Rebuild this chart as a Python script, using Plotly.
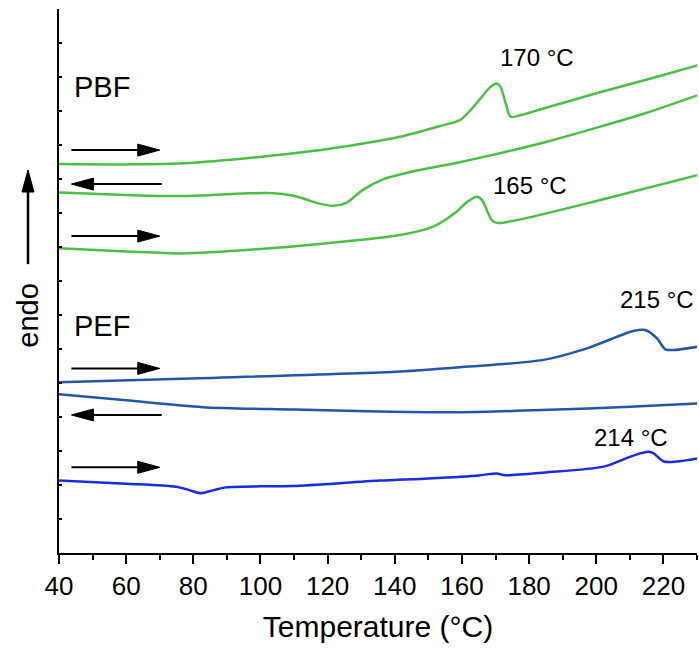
import plotly.graph_objects as go

# ---- data (temperature in °C, heat flow in arbitrary stacked units) ----
pbf_h2_T = [40, 60, 77, 100, 120, 141.5, 153.5, 159.5, 163.5, 168.5, 170.3, 171.5, 173, 174.5, 177.5, 183.5, 200, 220, 230.4]
pbf_h2_y = [11.44, 11.43, 11.46, 11.65, 11.88, 12.24, 12.56, 12.74, 13.13, 13.71, 13.81, 13.71, 13.23, 12.83, 12.88, 13.05, 13.52, 14.06, 14.35]

pbf_c_T = [40, 60, 76.8, 96.7, 104, 109, 113, 117, 121.6, 125.6, 130.5, 136.5, 144, 160, 171.3, 185, 201.2, 215, 230.4]
pbf_c_y = [10.60, 10.53, 10.50, 10.58, 10.58, 10.52, 10.42, 10.29, 10.21, 10.30, 10.68, 10.99, 11.19, 11.51, 11.76, 12.09, 12.54, 12.95, 13.47]

pbf_h1_T = [40, 60, 76.8, 100, 120, 141.5, 151.4, 158.4, 161.6, 164.4, 166, 167.4, 168.9, 170.4, 176.3, 201.2, 230.4]
pbf_h1_y = [8.96, 8.87, 8.81, 8.94, 9.11, 9.35, 9.60, 10.04, 10.33, 10.48, 10.38, 10.09, 9.79, 9.71, 9.79, 10.38, 11.12]

pef_h2_T = [40, 81.8, 141.5, 160, 184.3, 197.2, 206.2, 211, 214.6, 218.1, 220.6, 223, 230.5]
pef_h2_y = [5.02, 5.14, 5.34, 5.47, 5.68, 6.02, 6.36, 6.53, 6.56, 6.31, 5.99, 5.97, 6.07]

pef_c_T = [40, 60, 82.8, 110, 135.5, 160, 186, 210, 230.4]
pef_c_y = [4.67, 4.49, 4.29, 4.22, 4.16, 4.14, 4.21, 4.30, 4.40]

pef_h1_T = [40, 60, 74.8, 78.8, 82.3, 86, 89.8, 100, 109.6, 135.5, 150, 165, 168, 170.3, 173, 185, 202.2, 209, 213, 215.6, 217.1, 220.1, 224, 230.5]
pef_h1_y = [2.13, 2.04, 1.95, 1.85, 1.76, 1.85, 1.93, 1.96, 1.97, 2.13, 2.19, 2.28, 2.32, 2.34, 2.29, 2.37, 2.54, 2.79, 2.93, 2.98, 2.93, 2.69, 2.69, 2.79]

x_ticks = [40, 60, 80, 100, 120, 140, 160, 180, 200, 220]

peak_labels = ["170 °C", "165 °C", "215 °C", "214 °C"]
peak_label_x = [182.3, 180.2, 218.0, 210.4]
peak_label_y = [14.57, 10.8, 7.46, 3.40]

sample_labels = ["PBF", "PEF"]
sample_label_y = [13.7, 6.69]

# scan-direction arrows: (y level, direction +1 heating / -1 cooling)
arrow_y = [11.85, 10.85, 9.32, 5.43, 4.06, 2.52]
arrow_dir = [1, -1, 1, 1, -1, 1]

GREEN = "#4CBF46"
BLUE_DARK = "#2456A8"
BLUE = "#1A2BE0"
FONT = "Liberation Sans, Arial, sans-serif"

fig = go.Figure()
curves = [
    (pbf_h2_T, pbf_h2_y, GREEN),
    (pbf_c_T, pbf_c_y, GREEN),
    (pbf_h1_T, pbf_h1_y, GREEN),
    (pef_h2_T, pef_h2_y, BLUE_DARK),
    (pef_c_T, pef_c_y, BLUE_DARK),
    (pef_h1_T, pef_h1_y, BLUE),
]
for xs, ys, col in curves:
    fig.add_trace(go.Scatter(x=xs, y=ys, mode="lines",
                             line=dict(color=col, width=2.5, shape="spline", smoothing=0.8),
                             showlegend=False, hoverinfo="skip"))

annotations = []
for t, x, y in zip(peak_labels, peak_label_x, peak_label_y):
    annotations.append(dict(x=x, y=y, xref="x", yref="y", text=t, showarrow=False,
                            font=dict(size=24, color="black", family=FONT),
                            xanchor="center", yanchor="middle"))
for t, y in zip(sample_labels, sample_label_y):
    annotations.append(dict(x=43.8, y=y, xref="x", yref="y", text=t, showarrow=False,
                            font=dict(size=29, color="black", family=FONT),
                            xanchor="left", yanchor="middle"))
annotations.append(dict(x=-0.0486, y=0.438, xref="paper", yref="paper", text="endo",
                        showarrow=False, textangle=-90,
                        font=dict(size=29, color="black", family=FONT),
                        xanchor="center", yanchor="middle"))

shapes = []
x_left, x_right = 43.7, 70.0
for y, d in zip(arrow_y, arrow_dir):
    if d > 0:
        tip, tail = x_right, x_left
    else:
        tip, tail = x_left, x_right + 0.6
    shapes.append(dict(type="line", xref="x", yref="y", x0=tail, x1=tip - d * 5.5, y0=y, y1=y,
                       line=dict(color="black", width=2)))
    shapes.append(dict(type="path", xref="x", yref="y", xsizemode="pixel", ysizemode="pixel",
                       xanchor=tip, yanchor=y,
                       path=f"M0,0 L{-22*d},6 L{-22*d},-6 Z",
                       fillcolor="black", line=dict(color="black", width=1)))

# endo arrow (vertical, left of the axis)
shapes.append(dict(type="line", xref="paper", yref="paper", x0=-0.0486, x1=-0.0486,
                   y0=0.531, y1=0.67, line=dict(color="black", width=2.5)))
shapes.append(dict(type="path", xref="paper", yref="paper", xsizemode="pixel", ysizemode="pixel",
                   xanchor=-0.0486, yanchor=0.704,
                   path="M0,0 L-6,-22 L6,-22 Z",
                   fillcolor="black", line=dict(color="black", width=1)))

fig.update_layout(
    width=699, height=654,
    margin=dict(l=59, r=2, t=9, b=101),
    paper_bgcolor="white", plot_bgcolor="white",
    font=dict(family=FONT, color="black"),
    annotations=annotations,
    shapes=shapes,
    xaxis=dict(range=[40, 230], tickmode="array", tickvals=x_ticks,
               ticks="outside", ticklen=9, tickwidth=2, tickcolor="black",
               minor=dict(dtick=10, tick0=40, ticks="outside", ticklen=5, tickwidth=2, tickcolor="black"),
               showline=True, linewidth=2, linecolor="black", showgrid=False, zeroline=False,
               tickfont=dict(size=26, family=FONT, color="black"),
               title=dict(text="Temperature (°C)", font=dict(size=30, family=FONT, color="black"), standoff=16)),
    yaxis=dict(range=[0, 16], dtick=1, tick0=0, ticks="inside", ticklen=3, tickwidth=1.5, tickcolor="black",
               showticklabels=False, showline=True, linewidth=2, linecolor="black",
               showgrid=False, zeroline=False),
)

fig.write_html("out.html", config={"displayModeBar": False},
               post_script="document.body.style.margin='0';document.body.style.overflow='hidden';")
